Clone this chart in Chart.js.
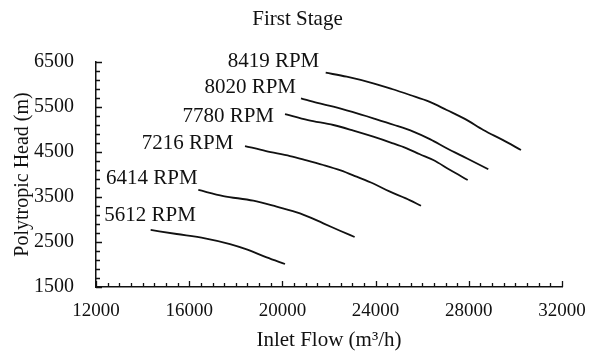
<!DOCTYPE html>
<html>
<head>
<meta charset="utf-8">
<script src="https://cdn.jsdelivr.net/npm/chart.js@4.4.1/dist/chart.umd.min.js"></script>
<style>
html,body{margin:0;padding:0;background:#fff;}
</style>
</head>
<body>
<canvas id="c" width="595" height="351"></canvas>
<script>
// ---- data ----
const speedLabels = ['8419 RPM', '8020 RPM', '7780 RPM', '7216 RPM', '6414 RPM', '5612 RPM'];

const flow8419 = [21858, 22760, 23900, 24700, 25476, 26300, 27051, 27850, 28624, 29450, 30240];
const head8419 = [6262, 6173, 6026, 5900, 5767, 5620, 5433, 5230, 4989, 4770, 4544];

const flow8020 = [20798, 21500, 22187, 23000, 23901, 24800, 25618, 26350, 27051, 27950, 28837];
const head8020 = [5693, 5590, 5507, 5390, 5248, 5100, 4952, 4780, 4582, 4350, 4116];

const flow7780 = [20112, 21100, 22187, 23050, 23901, 24650, 25335, 25900, 26476, 27200, 27953];
const head7780 = [5344, 5210, 5100, 4975, 4840, 4710, 4582, 4450, 4322, 4100, 3878];

const flow7216 = [18395, 19300, 20326, 21000, 21755, 22500, 23185, 23900, 24618, 25300, 25948];
const head7216 = [4633, 4520, 4411, 4320, 4211, 4090, 3951, 3800, 3618, 3470, 3307];

const flow6414 = [16391, 17464, 18751, 19751, 20755, 21755, 22472, 23100];
const head6414 = [3656, 3522, 3418, 3284, 3137, 2915, 2751, 2612];

const flow5612 = [14346, 15464, 16678, 17751, 18467, 19325, 20112];
const head5612 = [2767, 2678, 2582, 2455, 2337, 2159, 2011];

const xTickValues = [12000, 16000, 20000, 24000, 28000, 32000];
const yTickValues = [1500, 2500, 3500, 4500, 5500, 6500];

const seriesFlows = [flow8419, flow8020, flow7780, flow7216, flow6414, flow5612];
const seriesHeads = [head8419, head8020, head7780, head7216, head6414, head5612];

// ---- build datasets ----
const datasets = speedLabels.map((lbl, i) => ({
  label: lbl,
  data: seriesFlows[i].map((x, j) => ({x: x, y: seriesHeads[i][j]})),
  borderColor: '#111',
  borderWidth: 1.8,
  pointRadius: 0,
  fill: false,
  cubicInterpolationMode: 'monotone'
}));

const FONT = "'Liberation Serif', 'Times New Roman', serif";

// inward tick marks, drawn from the scales
const innerTicks = {
  id: 'innerTicks',
  afterDraw(chart, args, opts) {
    const {ctx, scales: {x, y}} = chart;
    ctx.save();
    ctx.strokeStyle = '#111';
    ctx.lineWidth = 1.3;
    ctx.beginPath();
    for (let v = x.min; v <= x.max + 1e-6; v += opts.xMinor) {
      const px = Math.round(x.getPixelForValue(v)) + 0.5;
      const len = (Math.abs((v - x.min) % opts.xMajor) < 1e-6) ? opts.majorLen : opts.minorLen;
      ctx.moveTo(px, y.bottom);
      ctx.lineTo(px, y.bottom - len);
    }
    for (let v = y.min; v <= y.max + 1e-6; v += opts.yMinor) {
      const py = Math.round(y.getPixelForValue(v)) + 0.5;
      const len = (Math.abs((v - y.min) % opts.yMajor) < 1e-6) ? opts.majorLen : opts.minorLen;
      ctx.moveTo(x.left, py);
      ctx.lineTo(x.left + len, py);
    }
    ctx.stroke();
    ctx.restore();
  }
};

// curve labels placed relative to each curve's first point
const curveLabels = {
  id: 'curveLabels',
  afterDatasetsDraw(chart, args, opts) {
    const {ctx, scales: {x, y}} = chart;
    ctx.save();
    ctx.fillStyle = '#111';
    ctx.font = opts.font;
    ctx.textAlign = 'right';
    ctx.textBaseline = 'middle';
    chart.data.datasets.forEach((ds, i) => {
      const p = ds.data[0];
      const off = opts.offsets[i];
      ctx.fillText(ds.label, x.getPixelForValue(p.x) + off[0], y.getPixelForValue(p.y) + off[1]);
    });
    ctx.restore();
  }
};

new Chart(document.getElementById('c'), {
  type: 'line',
  data: {datasets: datasets},
  plugins: [innerTicks, curveLabels],
  options: {
    responsive: false,
    animation: false,
    devicePixelRatio: 1,
    layout: {padding: {left: 0, right: 0, top: 0, bottom: 0}},
    plugins: {
      legend: {display: false},
      tooltip: {enabled: false},
      title: {
        display: true,
        text: 'First Stage',
        color: '#111',
        font: {family: FONT, size: 21, weight: 'normal'},
        padding: {top: 7, bottom: 29.8}
      },
      innerTicks: {xMinor: 500, xMajor: 4000, yMinor: 200, yMajor: 1000, minorLen: 4, majorLen: 6},
      curveLabels: {
        font: "21px " + FONT,
        offsets: [[-6.4, -11], [-5, -10.6], [-11, 2], [-11.7, -2.7], [-0.6, -11.7], [45.3, -15]]
      }
    },
    scales: {
      x: {
        type: 'linear',
        min: 12000,
        max: 32000,
        afterBuildTicks(scale) { scale.ticks = xTickValues.map(v => ({value: v})); },
        afterFit(scale) { scale.height = 64; scale.paddingRight = 33; },
        grid: {display: false},
        border: {display: true, color: '#111', width: 1.5},
        ticks: {color: '#111', font: {family: FONT, size: 19}, padding: 5, maxRotation: 0,
                callback: v => String(v)},
        title: {display: true, text: 'Inlet Flow (m³/h)', color: '#111',
                font: {family: FONT, size: 21, lineHeight: 1}, padding: {top: 0, bottom: 0}}
      },
      y: {
        type: 'linear',
        min: 1500,
        max: 6500,
        afterBuildTicks(scale) { scale.ticks = yTickValues.map(v => ({value: v})); },
        afterFit(scale) { scale.width = 96; },
        grid: {display: false},
        border: {display: true, color: '#111', width: 1.5},
        ticks: {color: '#111', font: {family: FONT, size: 20}, padding: 14,
                callback: v => String(v)},
        title: {display: true, text: 'Polytropic Head (m)', color: '#111',
                font: {family: FONT, size: 20, lineHeight: 1.2}, padding: {top: 11, bottom: 0}}
      }
    }
  }
});
</script>
</body>
</html>
